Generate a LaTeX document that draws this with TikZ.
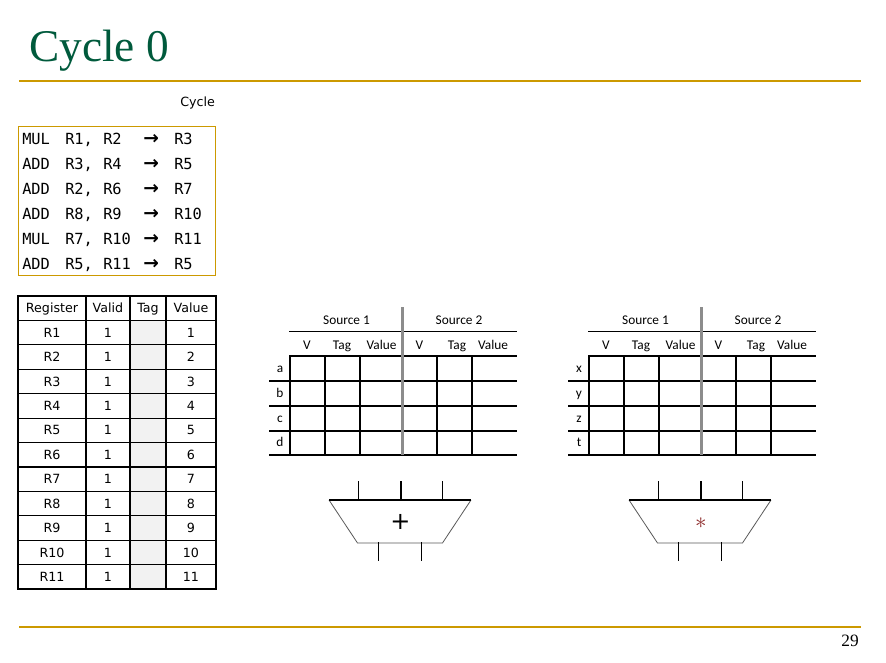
\documentclass[tikz,border=0pt]{standalone}
\usepackage{fontspec}
\setmainfont{Liberation Serif}
\setsansfont{DejaVu Sans}
\setmonofont{DejaVu Sans Mono}
\newfontfamily\rsfont{Carlito}
\usetikzlibrary{positioning, calc}
\definecolor{titlegreen}{RGB}{0, 90, 60}
\definecolor{rulegold}{RGB}{204, 153, 0}
\definecolor{tagfill}{RGB}{242, 242, 242}
\definecolor{mulred}{RGB}{140, 40, 40}

\begin{document}
\begin{tikzpicture}[x=0.75pt, y=-0.75pt,
        rule/.style={draw=rulegold, line width=1.6pt},
        cell/.style={font=\sffamily\fontsize{9.5}{10}\selectfont, inner sep=0pt, text height=7pt, text depth=0pt},
        instr/.style={font=\ttfamily\fontsize{11.5}{12}\selectfont, anchor=base west, inner sep=0pt},
        rslbl/.style={font=\rsfont\fontsize{10}{11}\selectfont, inner sep=0pt, text height=7pt, text depth=1pt},
        grid/.style={draw=black, line width=0.9pt, line cap=rect},
        divider/.style={draw=black!45, line width=2.2pt},
        alu/.style={draw=black!65, line width=0.6pt}
    ]
    \useasboundingbox (0,0) rectangle (886,662);

    % title and page rules
    \node[anchor=base west, inner sep=0pt, font=\fontsize{34}{36}\selectfont, text=titlegreen] (title) at (29,61.5) {Cycle 0};
    \draw[rule] (19,81) -- (861,81);
    \draw[rule] (19,627) -- (861,627);
    \node[anchor=base east, inner sep=0pt, font=\fontsize{13}{14}\selectfont] (pagenum) at (859,646) {29};

    % instruction window
    \node[cell, anchor=west] (cyclelbl) at (180,102) {Cycle};
    \draw[draw=rulegold, line width=0.75pt] (18,126) rectangle (215,275);
    \foreach \op/\srca/\srcb/\dst [count=\i] in {MUL/R1/R2/R3, ADD/R3/R4/R5, ADD/R2/R6/R7, ADD/R8/R9/R10, MUL/R7/R10/R11, ADD/R5/R11/R5} {
        \node[instr] (op\i) at (22,{119+25*\i}) {\op};
        \node[instr] (srca\i) at (65,{119+25*\i}) {\srca,};
        \node[instr] (srcb\i) at (103,{119+25*\i}) {\srcb};
        \node[instr, font=\sffamily\bfseries\fontsize{14}{14}\selectfont] (to\i) at (143,{119.5+25*\i}) {→};
        \node[instr] (dst\i) at (174,{119+25*\i}) {\dst};
    }

    % register file
    \fill[tagfill] (130,320.4) rectangle (166,589);
    \foreach \k in {0,...,12}
        \draw[grid] (18,{296+24.42*\k}) -- (216,{296+24.42*\k});
    \foreach \cx in {18,86,130,166,216}
        \draw[grid] (\cx,296) -- (\cx,589);
    \foreach \cx/\head in {52/Register, 108/Valid, 148/Tag, 191/Value}
        \node[cell] (head\head) at (\cx,308.2) {\head};
    \foreach \i in {1,...,11} {
        \node[cell] (reg\i) at (52,{296+24.42*(\i+0.5)}) {R\i};
        \node[cell] (valid\i) at (108,{296+24.42*(\i+0.5)}) {1};
        \node[cell] (value\i) at (191,{296+24.42*(\i+0.5)}) {\i};
    }

    % reservation stations
    \foreach \dx/\unit/\lbls in {0/add/{a,b,c,d}, 299/mul/{x,y,z,t}} {
        \draw[grid] ({290+\dx},331.5) -- ({516+\dx},331.5);
        \draw[grid] ({290+\dx},356) -- ({516+\dx},356);
        \foreach \ry in {381,406,431,455}
            \draw[grid] ({270+\dx},\ry) -- ({516+\dx},\ry);
        \foreach \cx in {290,325,360,437,472}
            \draw[grid] ({\cx+\dx},356) -- ({\cx+\dx},455);
        \draw[divider] ({402.7+\dx},307) -- ({402.7+\dx},455);
        \node[rslbl] (\unit srca) at ({346.5+\dx},320.5) {Source 1};
        \node[rslbl] (\unit srcb) at ({459+\dx},320.5) {Source 2};
        \foreach \cx/\head [count=\j] in {307/V, 342/Tag, 381.5/Value, 419.5/V, 457/Tag, 493/Value}
            \node[rslbl] (\unit head\j) at ({\cx+\dx},345.5) {\head};
        \foreach \l [count=\j] in \lbls
            \node[rslbl] (\unit row\j) at ({280+\dx},{343.7+24.8*\j}) {\l};
    }

    % functional units
    \foreach \dx in {0,300} {
        \draw[alu] ({329+\dx},500) -- ({357.5+\dx},543) -- ({442.5+\dx},543) -- ({471+\dx},500);
        \draw[line width=0.9pt] ({329+\dx},500) -- ({471+\dx},500);
        \foreach \sx in {358.3,401,442.7}
            \draw[grid] ({\sx+\dx},482) -- ({\sx+\dx},500);
        \foreach \sx in {378.3,421.7}
            \draw[grid] ({\sx+\dx},543) -- ({\sx+\dx},560);
    }
    \node[font=\sffamily\fontsize{18}{18}\selectfont, inner sep=0pt] (addop) at (400.5,522) {+};
    \node[font=\fontsize{19}{19}\selectfont, text=mulred, inner sep=0pt] (mulop) at (701,523) {$\ast$};
\end{tikzpicture}
\end{document}
